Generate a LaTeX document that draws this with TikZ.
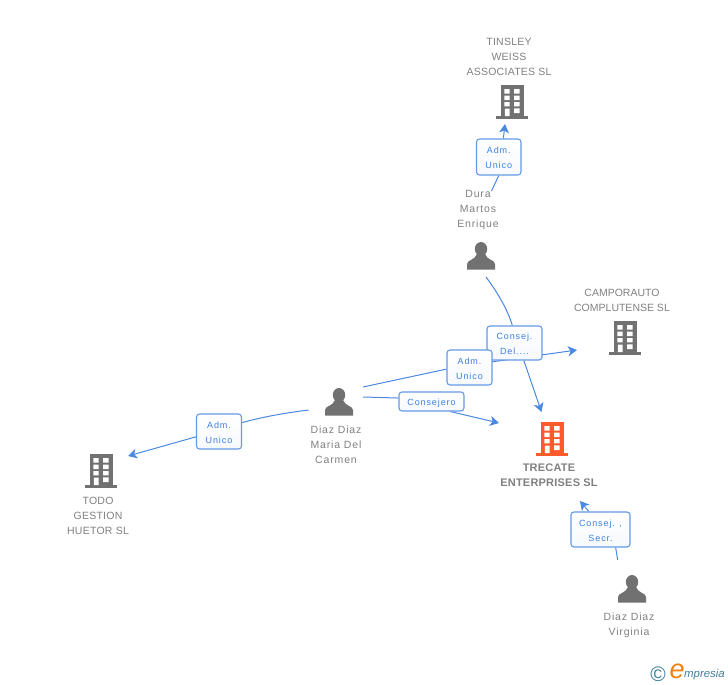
\documentclass[tikz,border=0pt]{standalone}
\usepackage{fontspec}
\setmainfont{Liberation Sans}
\usetikzlibrary{arrows.meta,backgrounds}
\definecolor{icongray}{HTML}{717171}
\definecolor{textgray}{HTML}{808080}
\definecolor{linkblue}{HTML}{4A88E2}
\definecolor{boxblue}{HTML}{649AE6}
\definecolor{labelblue}{HTML}{3C80E0}
\definecolor{hotorange}{HTML}{FF5A2B}
\definecolor{logoblue}{HTML}{3F7E9C}
\definecolor{logoorange}{HTML}{F0820F}
\tikzset{
  bldg/.pic={
    \fill[#1] (-11,0) rectangle (11.5,31);
    \fill[#1] (-16,31) rectangle (16,34);
    \fill[white] (-7.6,4) rectangle (-2.5,8.5) (2.1,4) rectangle (7.5,8.5)
      (-7.6,10.7) rectangle (-2.5,15.2) (2.1,10.7) rectangle (7.5,15.2)
      (-7.6,17) rectangle (-2.5,21.3) (2.1,17) rectangle (7.5,21.3)
      (-7.2,23.7) rectangle (-2.5,31) (2.1,23.4) rectangle (7.5,28);
  },
  persona/.pic={
    \fill[icongray] (0,7) ellipse[x radius=6.2,y radius=7];
    \fill[icongray] (-14,27.5) -- (-14,22) .. controls (-14,18) and (-6,18) .. (-4,12)
      -- (4,12) .. controls (6,18) and (14,18) .. (14,22) -- (14,27.5) -- cycle;
  },
  names/.style={text=textgray,align=center,inner sep=0pt,
    font=\fontsize{10.5}{15}\selectfont\addfontfeature{LetterSpace=2.5}},
  wide/.style={font=\fontsize{10.5}{15}\selectfont\addfontfeature{LetterSpace=8}},
  lab/.style={draw=boxblue,line width=1.1pt,rounded corners=3pt,top color=white,bottom color=white!94!boxblue,
    text=labelblue,align=center,inner sep=0pt,
    font=\fontsize{9}{15}\selectfont\addfontfeature{LetterSpace=10}},
  labtwo/.style={lab,execute at begin node={\leavevmode\rule{0pt}{24pt}}},
  labone/.style={lab,execute at begin node={\leavevmode\rule{0pt}{9.5pt}}},
  conn/.style={draw=linkblue,line width=1pt},
  tipped/.style={conn,-{Stealth[length=9pt,width=10pt,inset=2.5pt]}},
}
\begin{document}
\begin{tikzpicture}[x=1pt,y=-1pt]
\useasboundingbox (0,0) rectangle (728,685);
% icons
\pic at (512,85) {bldg=icongray};
\pic at (625,321) {bldg=icongray};
\pic at (552,422) {bldg=hotorange};
\pic at (101,454) {bldg=icongray};
\pic at (481,242) {persona};
\pic at (339,388) {persona};
\pic at (632,575) {persona};
% names
\node[names] (tinsley) at (509,57) {TINSLEY\\WEISS\\ASSOCIATES SL};
\node[names,font=\fontsize{10.5}{15}\selectfont] (camporauto) at (622,300.5) {CAMPORAUTO\\COMPLUTENSE SL};
\node[names,font=\fontsize{11}{15}\selectfont\bfseries\addfontfeature{LetterSpace=2}] (trecate) at (549,475) {TRECATE\\ENTERPRISES SL};
\node[names] (todo) at (98,515.5) {TODO\\GESTION\\HUETOR SL};
\node[names,wide] (maria) at (336,445) {Diaz Diaz\\Maria Del\\Carmen};
\node[names,wide] (dura) at (478,209.5) {Dura\\Martos\\Enrique};
\node[names,wide] (virginia) at (629,625) {Diaz Diaz\\Virginia};
% labels
\node[labtwo,minimum width=44.5pt,minimum height=36pt] (l1) at (498.75,157) {Adm.\\Unico};
\node[labtwo,minimum width=55pt,minimum height=34pt] (l2) at (514.5,343) {Consej.\\Del....};
\node[labtwo,minimum width=45pt,minimum height=35pt] (l3) at (469.5,367.5) {Adm.\\Unico};
\node[labone,minimum width=65pt,minimum height=19pt] (l4) at (431.5,401.5) {Consejero};
\node[labtwo,minimum width=45pt,minimum height=35pt] (l5) at (219,431.5) {Adm.\\Unico};
\node[labtwo,minimum width=59pt,minimum height=35pt] (l6) at (600.5,529.5) {Consej. ,\\Secr.};
% free ends
\coordinate (d1) at (491.5,191);
\coordinate (t1) at (505,124);
\coordinate (d2) at (486,277);
\coordinate (t2) at (541.5,412);
\coordinate (m3) at (363,387);
\coordinate (t3) at (577,350);
\coordinate (m4) at (363,397);
\coordinate (t4) at (499,423);
\coordinate (m5) at (308.5,410);
\coordinate (t5) at (128,456);
\coordinate (v6) at (617.7,560);
\coordinate (t6) at (580,501);
% connectors
\begin{scope}[on background layer]
\draw[conn] (d1) -- (l1.south);
\draw[tipped] (l1.76) -- (t1);
\draw[conn] (d2) .. controls (497,292) and (507,308) .. (l2.97);
\draw[tipped] (l2.-62) -- (t2);
\draw[conn] (m3) -- (l3.184);
\draw[tipped] (l3.14) -- (t3);
\draw[conn] (m4) -- (l4.174);
\draw[tipped] (l4.-28) -- (t4);
\draw[conn] (m5) .. controls (285,413) and (262,417) .. (l5.21);
\draw[tipped] (l5.193) -- (t5);
\draw[conn] (v6) -- (l6.-50);
\draw[tipped] (l6.123) -- (t6);
\end{scope}
% logo
\node[text=logoblue,inner sep=0pt,font=\fontsize{21}{21}\selectfont] (copy) at (658,674) {©};
\node[text=logoorange,inner sep=0pt,font=\fontsize{27}{27}\selectfont\itshape] (logoe) at (677,671) {e};
\node[text=logoblue,inner sep=0pt,anchor=west,font=\fontsize{11.4}{12}\selectfont\itshape] (logotext) at (684,675) {mpresia};
\end{tikzpicture}
\end{document}
